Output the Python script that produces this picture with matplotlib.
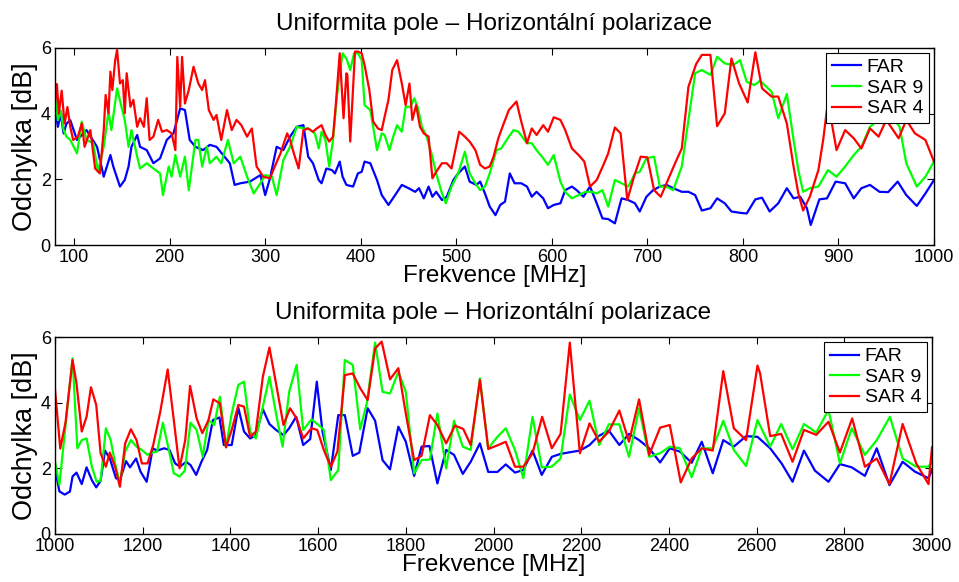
import matplotlib
matplotlib.use("Agg")
import matplotlib.pyplot as plt

plt.rcParams['font.family'] = ['Liberation Sans', 'DejaVu Sans']

# --- horni graf 80-1000 MHz ---
f_far_1 = [80, 83, 86, 89, 92, 96, 103, 113, 124, 131, 138, 141, 148, 153, 157, 160, 166, 169, 176, 183,
           190, 197, 204, 211, 216, 221, 227, 235, 242, 249, 256, 263, 268, 274, 284, 295, 300, 305, 312, 319,
           326, 333, 340, 345, 350, 356, 359, 364, 370, 373, 378, 381, 385, 392, 397, 401, 404, 410, 417, 422,
           429, 436, 443, 450, 457, 461, 466, 471, 475, 479, 485, 490, 497, 502, 509, 514, 521, 525, 530, 535,
           541, 546, 551, 556, 561, 568, 574, 579, 584, 591, 596, 602, 609, 614, 621, 626, 633, 640, 647, 653,
           659, 666, 673, 680, 687, 692, 699, 706, 713, 720, 727, 736, 743, 750, 757, 766, 773, 781, 788, 797,
           804, 813, 820, 828, 837, 846, 853, 860, 867, 871, 880, 888, 897, 907, 916, 924, 933, 943, 952, 962,
           971, 982, 991, 1000]
far_1 = [4.2, 3.6, 4.0, 3.4, 3.7, 3.80, 3.20, 3.50, 2.99, 2.08, 2.74, 2.39, 1.78, 1.98, 2.39, 2.99, 3.35, 2.99, 2.89, 2.49,
         2.64, 3.20, 3.40, 4.16, 4.11, 3.20, 2.99, 2.89, 3.05, 2.99, 2.74, 2.49, 1.83, 1.88, 1.93, 2.13, 1.52, 2.03, 2.99, 2.89,
         3.30, 3.60, 3.65, 2.69, 2.49, 1.98, 1.88, 2.33, 2.28, 2.18, 2.54, 2.08, 1.83, 1.78, 2.18, 2.23, 2.54, 2.49, 1.98, 1.52,
         1.22, 1.52, 1.83, 1.73, 1.62, 1.73, 1.42, 1.78, 1.47, 1.62, 1.37, 1.47, 1.98, 2.18, 2.39, 1.93, 1.83, 1.93, 1.57, 1.17,
         0.91, 1.22, 1.32, 2.18, 1.88, 1.88, 1.78, 1.47, 1.62, 1.42, 1.12, 1.22, 1.27, 1.67, 1.78, 1.67, 1.47, 1.78, 1.27, 0.81,
         0.79, 0.66, 1.42, 1.37, 1.27, 1.02, 1.47, 1.67, 1.78, 1.83, 1.73, 1.62, 1.62, 1.52, 1.05, 1.12, 1.42, 1.27, 1.02, 0.98,
         0.96, 1.39, 1.44, 1.02, 1.27, 1.73, 1.42, 1.47, 1.12, 0.61, 1.39, 1.42, 1.93, 1.88, 1.42, 1.73, 1.83, 1.62, 1.61, 1.93,
         1.52, 1.19, 1.57, 1.98]

f_sar9_1 = [80, 83, 86, 89, 92, 96, 103, 108, 113, 120, 125, 131, 136, 139, 145, 150, 153, 157, 160, 166,
            169, 176, 183, 190, 193, 199, 202, 206, 211, 216, 220, 227, 230, 234, 239, 242, 249, 254, 261, 267,
            274, 281, 288, 295, 300, 307, 312, 319, 326, 333, 340, 345, 352, 356, 359, 363, 367, 371, 375, 381,
            385, 389, 393, 397, 401, 404, 410, 413, 417, 422, 425, 430, 434, 438, 443, 447, 452, 456, 460, 464,
            469, 474, 479, 485, 489, 495, 502, 509, 514, 520, 525, 530, 535, 542, 547, 555, 560, 565, 574, 579,
            584, 591, 596, 602, 609, 614, 621, 628, 635, 642, 647, 653, 659, 666, 673, 680, 687, 692, 699, 707,
            713, 720, 727, 736, 743, 750, 757, 766, 773, 781, 790, 797, 804, 812, 818, 830, 837, 846, 853, 858,
            863, 870, 879, 889, 898, 907, 916, 924, 933, 944, 954, 964, 971, 982, 991, 1000]
sar9_1 = [4.5, 3.8, 4.1, 3.5, 3.3, 3.20, 2.79, 3.76, 3.20, 3.10, 2.23, 2.99, 4.06, 3.50, 4.77, 4.16, 3.81, 2.99, 3.50, 2.69,
          2.33, 2.49, 2.33, 2.18, 1.52, 2.39, 2.08, 2.74, 2.08, 2.69, 1.67, 3.20, 3.20, 2.39, 2.99, 2.49, 2.69, 2.49, 3.20, 2.49,
          2.69, 2.08, 1.57, 1.88, 2.13, 2.08, 1.52, 2.59, 2.99, 3.60, 3.55, 3.55, 3.40, 2.94, 3.45, 3.20, 2.39, 3.20, 4.52, 5.84,
          5.68, 5.33, 5.84, 5.84, 5.63, 4.26, 4.11, 3.60, 2.89, 3.40, 3.35, 2.89, 3.30, 3.65, 3.45, 4.21, 4.21, 4.47, 4.16, 3.60,
          3.30, 2.79, 2.18, 1.57, 1.27, 1.78, 2.18, 2.84, 2.18, 1.88, 1.67, 1.78, 2.18, 2.89, 2.94, 3.30, 3.50, 3.45, 3.10, 3.10,
          2.89, 2.64, 2.44, 2.74, 1.93, 1.62, 1.42, 1.52, 1.62, 1.62, 1.57, 1.67, 1.17, 1.98, 1.88, 1.78, 2.18, 2.23, 2.64, 2.69,
          1.78, 1.78, 1.67, 2.39, 3.81, 5.23, 5.33, 5.18, 5.73, 5.53, 5.48, 5.63, 4.97, 4.87, 5.00, 4.67, 3.86, 4.60, 3.20, 2.28,
          1.62, 1.73, 1.78, 2.28, 2.08, 2.39, 2.74, 2.99, 3.60, 3.86, 4.00, 3.60, 2.49, 1.78, 2.08, 2.54]

f_sar4_1 = [80, 82, 84, 87, 90, 93, 96, 99, 104, 108, 111, 117, 122, 127, 131, 133, 136, 138, 140, 143,
            145, 148, 151, 153, 155, 159, 162, 166, 169, 173, 176, 179, 183, 188, 192, 197, 202, 206, 208, 211,
            213, 216, 220, 225, 230, 234, 237, 241, 246, 249, 254, 260, 265, 270, 275, 281, 286, 291, 298, 305,
            310, 316, 323, 326, 330, 335, 340, 345, 350, 354, 359, 363, 367, 371, 374, 378, 382, 385, 386, 389,
            394, 397, 401, 404, 409, 413, 418, 422, 425, 429, 433, 438, 443, 447, 451, 454, 458, 462, 466, 471,
            475, 479, 485, 490, 495, 503, 509, 514, 520, 525, 530, 535, 539, 544, 549, 555, 563, 568, 574, 579,
            584, 591, 596, 602, 609, 614, 621, 628, 634, 640, 647, 654, 659, 666, 672, 679, 686, 693, 700, 707,
            714, 720, 729, 736, 743, 751, 757, 766, 773, 781, 788, 796, 805, 813, 820, 830, 837, 846, 853, 858,
            863, 870, 879, 884, 889, 898, 907, 916, 924, 933, 942, 950, 963, 971, 980, 991, 1000]
sar4_1 = [4.3, 4.9, 4.0, 4.7, 3.7, 4.2, 3.60, 3.20, 3.30, 3.70, 2.99, 3.50, 2.33, 2.18, 3.50, 4.57, 4.01, 5.28, 4.72, 5.63,
          5.94, 4.92, 5.02, 4.01, 5.23, 4.21, 4.42, 3.60, 3.86, 3.60, 4.47, 3.20, 3.30, 3.81, 3.45, 3.50, 3.40, 2.89, 5.73, 4.21,
          5.73, 4.31, 4.72, 5.43, 4.92, 4.72, 5.02, 4.11, 3.81, 3.96, 3.20, 4.11, 3.50, 3.81, 3.65, 3.30, 3.55, 2.39, 2.08, 2.03,
          2.39, 2.79, 3.40, 3.20, 2.79, 2.33, 3.50, 3.55, 3.45, 3.55, 3.65, 3.35, 3.15, 3.30, 4.31, 5.84, 3.86, 5.23, 5.18, 3.15,
          5.89, 5.89, 5.84, 5.48, 4.72, 3.76, 3.55, 3.50, 3.91, 4.42, 5.33, 5.63, 4.92, 4.26, 4.92, 3.81, 4.26, 3.60, 3.40, 3.30,
          2.03, 2.23, 2.49, 2.49, 2.33, 3.45, 3.30, 3.15, 2.89, 2.44, 2.33, 2.39, 2.69, 3.25, 3.65, 4.11, 4.37, 3.76, 3.10, 3.55,
          3.35, 3.65, 3.45, 3.89, 3.81, 3.50, 2.94, 2.74, 2.54, 1.78, 1.98, 2.44, 2.79, 3.58, 3.40, 1.37, 2.08, 2.69, 2.67, 1.67,
          1.47, 1.88, 2.49, 2.94, 4.82, 5.51, 5.79, 5.79, 3.62, 4.01, 5.68, 4.92, 4.34, 5.87, 4.77, 4.52, 4.52, 3.70, 2.39, 1.57,
          1.05, 1.47, 2.28, 3.20, 4.37, 2.89, 3.50, 3.25, 2.94, 3.55, 3.30, 3.81, 3.25, 3.81, 3.40, 3.20, 2.54]

# --- dolni graf 1000-3000 MHz ---
f_far_2 = [1000, 1010, 1022, 1034, 1040, 1049, 1061, 1072, 1084, 1094, 1104, 1114, 1125, 1139, 1148, 1162, 1171, 1185, 1195, 1209,
           1223, 1233, 1249, 1261, 1274, 1285, 1299, 1309, 1322, 1334, 1347, 1360, 1375, 1385, 1403, 1418, 1431, 1445, 1458, 1474,
           1489, 1504, 1521, 1534, 1550, 1566, 1582, 1597, 1610, 1629, 1646, 1661, 1679, 1694, 1713, 1730, 1747, 1764, 1783, 1800,
           1819, 1836, 1854, 1872, 1892, 1910, 1930, 1948, 1969, 1988, 2009, 2028, 2049, 2068, 2089, 2110, 2133, 2153, 2174, 2197,
           2219, 2239, 2263, 2287, 2309, 2332, 2355, 2380, 2402, 2425, 2452, 2475, 2500, 2524, 2548, 2576, 2602, 2631, 2657, 2682,
           2708, 2733, 2764, 2790, 2817, 2847, 2874, 2903, 2933, 2961, 2992, 3000]
far_2 = [2.0, 1.3, 1.2, 1.29, 1.75, 1.87, 1.52, 2.03, 1.64, 1.42, 1.62, 2.54, 2.30, 1.70, 1.64, 2.22, 2.03, 2.30, 1.90, 1.59,
         2.61, 2.54, 2.61, 2.56, 2.15, 2.05, 2.20, 2.10, 1.80, 2.20, 2.56, 3.47, 3.55, 2.71, 2.71, 3.85, 3.12, 2.91, 3.01, 3.80,
         3.35, 3.17, 3.01, 3.22, 3.57, 2.71, 2.89, 4.64, 3.12, 1.95, 3.62, 3.62, 2.38, 2.48, 3.83, 3.45, 2.25, 1.97, 3.27, 2.81,
         1.77, 2.66, 2.68, 1.54, 2.56, 2.41, 1.83, 2.20, 2.76, 1.89, 1.89, 2.12, 1.87, 1.95, 2.54, 1.80, 2.35, 2.44, 2.49, 2.54,
         2.71, 2.98, 3.15, 2.71, 3.05, 2.86, 2.61, 2.18, 2.61, 2.51, 2.17, 2.81, 1.85, 2.86, 2.66, 2.98, 2.96, 2.61, 2.15, 1.59,
         2.54, 1.93, 1.59, 2.13, 2.03, 1.77, 2.61, 1.49, 2.20, 1.90, 1.70, 1.95]

f_sar9_2 = [1000, 1010, 1040, 1051, 1061, 1072, 1084, 1095, 1104, 1116, 1127, 1137, 1148, 1160, 1173, 1186, 1198, 1211, 1223, 1233,
            1246, 1258, 1271, 1284, 1296, 1309, 1323, 1337, 1350, 1363, 1376, 1390, 1403, 1418, 1431, 1445, 1458, 1474, 1489, 1504,
            1519, 1534, 1551, 1566, 1585, 1601, 1613, 1629, 1646, 1661, 1679, 1696, 1711, 1730, 1747, 1764, 1783, 1800, 1819, 1836,
            1855, 1872, 1892, 1910, 1930, 1948, 1969, 1988, 2009, 2028, 2049, 2068, 2089, 2110, 2133, 2153, 2174, 2197, 2219, 2241,
            2263, 2287, 2309, 2332, 2355, 2380, 2402, 2425, 2452, 2475, 2500, 2524, 2548, 2576, 2602, 2631, 2656, 2682, 2708, 2736,
            2764, 2790, 2817, 2847, 2874, 2904, 2933, 2964, 2992, 3000]
sar9_2 = [2.2, 1.5, 5.35, 2.61, 2.86, 2.91, 2.05, 1.59, 1.62, 3.22, 2.86, 2.15, 1.54, 2.51, 2.86, 2.66, 2.56, 2.41, 2.48, 2.51,
          3.39, 2.66, 1.85, 1.75, 1.93, 3.39, 3.17, 2.35, 3.47, 3.32, 4.18, 2.64, 3.67, 4.54, 4.64, 3.12, 2.91, 3.88, 4.79, 3.67,
          2.66, 4.33, 5.15, 3.17, 3.49, 3.32, 3.17, 1.64, 1.95, 5.30, 5.15, 3.19, 3.98, 5.83, 4.33, 4.28, 4.94, 4.33, 1.85, 2.25,
          2.27, 3.67, 2.00, 3.45, 2.66, 2.56, 4.74, 2.61, 2.96, 3.22, 2.56, 1.70, 3.57, 2.03, 2.05, 2.30, 4.25, 3.47, 4.06, 2.71,
          3.34, 3.34, 2.35, 3.83, 2.35, 2.46, 2.66, 2.61, 1.73, 2.61, 2.61, 3.45, 2.56, 2.07, 3.47, 2.66, 3.35, 2.58, 3.35, 3.09,
          3.78, 2.15, 3.22, 2.41, 2.86, 3.57, 2.30, 2.05, 2.05, 2.20]

f_sar4_2 = [1000, 1012, 1024, 1040, 1049, 1061, 1072, 1082, 1094, 1104, 1116, 1125, 1137, 1148, 1160, 1173, 1186, 1198, 1211, 1224,
            1240, 1257, 1270, 1284, 1297, 1308, 1323, 1336, 1350, 1361, 1376, 1390, 1403, 1418, 1431, 1445, 1458, 1474, 1489, 1504,
            1521, 1536, 1551, 1566, 1585, 1598, 1613, 1629, 1644, 1661, 1679, 1696, 1713, 1730, 1745, 1764, 1783, 1800, 1819, 1836,
            1855, 1872, 1892, 1912, 1931, 1948, 1969, 1988, 2009, 2028, 2049, 2068, 2089, 2111, 2133, 2153, 2174, 2197, 2219, 2241,
            2263, 2287, 2309, 2332, 2355, 2380, 2402, 2427, 2452, 2475, 2500, 2524, 2548, 2576, 2602, 2608, 2631, 2656, 2682, 2708,
            2736, 2764, 2790, 2818, 2847, 2874, 2903, 2933, 2964, 2992, 3000]
sar4_2 = [4.4, 2.6, 3.4, 5.30, 4.59, 3.12, 3.57, 4.47, 3.93, 2.46, 2.05, 2.48, 2.05, 1.44, 2.76, 3.19, 2.86, 2.15, 2.15, 2.71,
          3.72, 5.01, 3.57, 2.00, 2.86, 4.51, 3.52, 3.07, 3.47, 4.10, 3.98, 2.64, 3.17, 3.93, 3.88, 2.96, 3.12, 4.79, 5.68, 4.59,
          3.32, 3.83, 3.52, 2.91, 3.22, 3.17, 2.56, 2.05, 2.51, 4.84, 4.89, 4.44, 4.08, 5.65, 5.86, 4.71, 5.05, 3.67, 2.25, 2.38,
          3.62, 3.32, 2.76, 3.30, 3.20, 2.71, 4.69, 2.59, 2.70, 2.81, 2.05, 2.05, 2.46, 3.57, 2.61, 3.05, 5.83, 2.46, 3.37, 2.81,
          3.12, 3.76, 2.81, 4.10, 2.41, 3.24, 3.32, 1.57, 2.30, 2.61, 2.54, 4.96, 3.22, 2.86, 5.13, 4.89, 2.98, 3.05, 2.20, 3.17,
          3.02, 3.42, 2.48, 3.52, 2.05, 2.30, 1.52, 3.35, 2.15, 1.52, 2.64]

title = "Uniformita pole – Horizontální polarizace"
labels = ["FAR", "SAR 9", "SAR 4"]
colors = ["#0000ff", "#00ff00", "#ff0000"]

fig = plt.figure(figsize=(9.59, 5.82), dpi=100)
ax1 = fig.add_axes([55 / 959, 1 - 245 / 582, 879 / 959, 197 / 582])
ax2 = fig.add_axes([55 / 959, 1 - 534 / 582, 877 / 959, 197 / 582])

panels = [
    (ax1, [(f_far_1, far_1), (f_sar9_1, sar9_1), (f_sar4_1, sar4_1)], (80, 1000), range(100, 1001, 100)),
    (ax2, [(f_far_2, far_2), (f_sar9_2, sar9_2), (f_sar4_2, sar4_2)], (1000, 3000), range(1000, 3001, 200)),
]

for ax, series, xlim, xticks in panels:
    for (f, v), lab, c in zip(series, labels, colors):
        ax.plot(f, v, color=c, linewidth=1.6, label=lab)
    ax.set_xlim(*xlim)
    ax.set_ylim(0, 6)
    ax.set_xticks(list(xticks))
    ax.set_yticks([0, 2, 4, 6])
    ax.tick_params(direction="in", top=True, right=True, labelsize=13, length=5, pad=3)
    for s in ax.spines.values():
        s.set_linewidth(1.0)
    ax.set_title(title, fontsize=17.5, pad=13)
    ax.set_xlabel("Frekvence [MHz]", fontsize=17.5, labelpad=-1)
    ax.set_ylabel("Odchylka [dB]", fontsize=19.5, labelpad=2)
    leg = ax.legend(loc="upper right", fontsize=14, fancybox=False, edgecolor="black",
                    framealpha=1, borderaxespad=0.25, handlelength=1.5, labelspacing=0.15,
                    borderpad=0.3, handletextpad=0.3)
    leg.get_frame().set_linewidth(0.8)

fig.savefig("out.png", dpi=100)
